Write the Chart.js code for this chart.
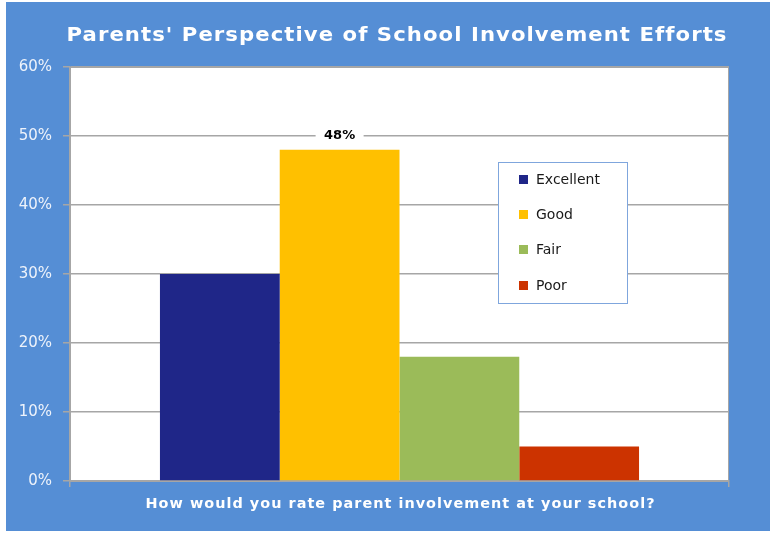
<!DOCTYPE html>
<html>
<head>
<meta charset="utf-8">
<script src="https://cdn.jsdelivr.net/npm/chart.js@4/dist/chart.umd.min.js"></script>
<style>
  body { margin: 0; background: #fff; }
  canvas { display: block; }
</style>
</head>
<body>
<canvas id="chart" width="770" height="533"></canvas>
<script>
  // Data
  const categories = ['Parent involvement'];
  const seriesNames = ['Excellent', 'Good', 'Fair', 'Poor'];
  const seriesValues = [30, 48, 18, 5];
  const seriesColors = ['#1F2688', '#FFC000', '#9BBB59', '#CC3300'];
  const showValueLabel = [false, true, false, false];
  const yTickValues = [0, 10, 20, 30, 40, 50, 60];

  const chartTitle = "Parents' Perspective of School Involvement Efforts";
  const xTitle = 'How would you rate parent involvement at your school?';

  const BLUE = '#558ED5';
  const GRID = '#A6A6A6';

  // draws text stretched horizontally to a given width (mix of spacing and scaling)
  function wideText(ctx, text, cx, cy, width) {
    ctx.letterSpacing = '1px';
    const w = ctx.measureText(text).width;
    const sx = width / w;
    ctx.save();
    ctx.translate(cx, cy);
    ctx.scale(sx, 1);
    ctx.textAlign = 'center';
    ctx.fillText(text, 0.5, 0);
    ctx.restore();
    ctx.letterSpacing = '0px';
  }

  const backgroundPlugin = {
    id: 'background',
    beforeDraw(chart) {
      const ctx = chart.ctx;
      const a = chart.chartArea;
      ctx.save();
      ctx.fillStyle = '#fff';
      ctx.fillRect(0, 0, chart.width, chart.height);
      ctx.fillStyle = BLUE;
      ctx.fillRect(6, 2, chart.width - 6, 529);
      ctx.fillStyle = '#fff';
      ctx.fillRect(a.left, a.top, a.right - a.left, a.bottom - a.top);
      ctx.strokeStyle = GRID;
      ctx.lineWidth = 1;
      ctx.strokeRect(a.left + 0.5, a.top + 0.5, a.right - a.left - 1, a.bottom - a.top);
      ctx.restore();
    }
  };

  const labelsPlugin = {
    id: 'extras',
    afterDatasetsDraw(chart) {
      const ctx = chart.ctx;
      ctx.save();
      // value label
      chart.data.datasets.forEach((ds, i) => {
        if (!showValueLabel[i]) return;
        const bar = chart.getDatasetMeta(i).data[0];
        ctx.font = 'bold 13px "DejaVu Sans"';
        ctx.fillStyle = '#fff';
        ctx.fillRect(bar.x - 24, bar.y - 22, 48, 16);
        ctx.fillStyle = '#000';
        ctx.textAlign = 'center';
        ctx.textBaseline = 'middle';
        ctx.fillText(ds.data[0] + '%', bar.x, bar.y - 14);
      });
      ctx.restore();
    },
    afterDraw(chart) {
      const ctx = chart.ctx;
      ctx.save();
      ctx.textBaseline = 'middle';
      // title
      ctx.fillStyle = '#fff';
      ctx.font = 'bold 20px "DejaVu Sans"';
      wideText(ctx, chartTitle, 396.5, 36, 661);
      // x axis title
      ctx.font = 'bold 14px "DejaVu Sans"';
      wideText(ctx, xTitle, 400, 504, 510);

      // legend
      const lx = 498, ly = 162, lw = 129, lh = 141;
      ctx.fillStyle = '#fff';
      ctx.fillRect(lx, ly, lw, lh);
      ctx.strokeStyle = '#7FA6DD';
      ctx.lineWidth = 1;
      ctx.strokeRect(lx + 0.5, ly + 0.5, lw, lh);
      const rowsY = [180, 215, 250, 286];
      ctx.font = '14px "DejaVu Sans"';
      ctx.textAlign = 'left';
      chart.data.datasets.forEach((ds, i) => {
        ctx.fillStyle = ds.backgroundColor;
        ctx.fillRect(519, rowsY[i] - 5, 9, 9);
        ctx.fillStyle = '#1A1A1A';
        ctx.fillText(ds.label, 536, rowsY[i]);
      });
      ctx.restore();
    }
  };

  new Chart(document.getElementById('chart'), {
    type: 'bar',
    data: {
      labels: categories,
      datasets: seriesNames.map((name, i) => ({
        label: name,
        data: [seriesValues[i]],
        backgroundColor: seriesColors[i],
        categoryPercentage: 0.727,
        barPercentage: 1
      }))
    },
    options: {
      responsive: false,
      animation: false,
      layout: { padding: { left: 0, top: 67, right: 41, bottom: 0 } },
      plugins: {
        legend: { display: false },
        title: { display: false },
        tooltip: { enabled: false }
      },
      scales: {
        x: {
          afterFit(scale) { scale.height = 52; },
          grid: { drawOnChartArea: false, color: GRID, tickLength: 6, lineWidth: 1.5 },
          border: { color: GRID, width: 1.5 },
          ticks: { display: false }
        },
        y: {
          min: 0,
          max: 60,
          afterFit(scale) { scale.width = 70; },
          afterBuildTicks(scale) { scale.ticks = yTickValues.map(v => ({ value: v })); },
          grid: { color: GRID, lineWidth: 1.5, tickLength: 7 },
          border: { color: GRID, width: 1.5 },
          ticks: {
            padding: 11,
            color: '#EEF3FB',
            font: { family: 'DejaVu Sans', size: 15 },
            callback: v => v + '%'
          }
        }
      }
    },
    plugins: [backgroundPlugin, labelsPlugin]
  });
</script>
</body>
</html>
